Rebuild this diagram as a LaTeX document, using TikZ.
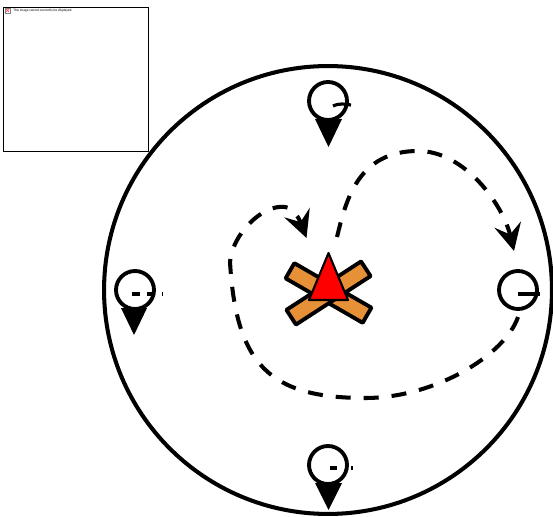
\documentclass[tikz,border=0pt]{standalone}
\usepackage{xcolor}
\usepackage{fontspec}
\setmainfont{Carlito}
\usetikzlibrary{arrows.meta}
\definecolor{logorange}{HTML}{E69138}
\tikzset{
  arena/.style={circle, draw=black, line width=2.3pt, minimum size=8.96cm, inner sep=0pt},
  guard/.style={circle, draw=black, line width=2.2pt, fill=white, minimum size=0.76cm, inner sep=0pt},
  cone/.style={fill=black, draw=none},
  logbar/.style={rectangle, draw=black, fill=logorange, line width=2.2pt, line join=round,
                 minimum width=1.78cm, minimum height=0.35cm, inner sep=0pt},
  flame/.style={draw=black, fill=red, line width=1.2pt, line join=round},
  route/.style={-{Stealth[length=0.54cm, width=0.54cm, inset=0.2cm]}, line width=2.3pt,
                dash pattern=on 0.3cm off 0.26cm},
  facing/.style={line width=1.8pt},
  placeholder/.style={rectangle, draw=black, line width=0.4pt, minimum width=2.9cm,
                      minimum height=2.88cm, inner sep=0pt},
}
\begin{document}
\begin{tikzpicture}[x=0.02cm, y=-0.02cm]
\useasboundingbox (0,0) rectangle (553,516);

% ── Missing image box (top left) ───────────────────────────
\node[placeholder] (imgbox) at (75.5,79) {};
\node[anchor=west, inner sep=0pt, font=\fontsize{2}{3}\selectfont] (imgtext) at (13,10.5)
      {This image cannot currently be displayed.};
\draw[line width=0.2pt, draw=gray, fill=white] (5,8) rectangle (10,13);
\draw[line width=0.4pt, red!70] (6,9) -- (9,12) (9,9) -- (6,12);

% ── Outer circle ───────────────────────────────────────────
\node[arena] (ring) at (328,290) {};

% ── Four markers ───────────────────────────────────────────
\fill[cone] (315,119) -- (342,119) -- (328.5,147) -- cycle;
\node[guard] (gtop) at (328,101) {};
\draw[facing] (333,106) .. controls (340,103) and (344,104) .. (351,105);

\fill[cone] (121,308) -- (147,308) -- (134,335) -- cycle;
\node[guard] (gleft) at (135,290) {};
\draw[facing, dash pattern=on 4.5pt off 4pt] (132,294) -- (163,294);

\node[guard] (gright) at (518,290) {};
\draw[facing] (518,294) -- (540,294);

\fill[cone] (315,483) -- (342,483) -- (328.5,510) -- cycle;
\node[guard] (gbottom) at (328,465) {};
\draw[facing, dash pattern=on 4pt off 8pt] (330,468) -- (353,468);

% ── Fire in the centre ─────────────────────────────────────
\node[logbar, rotate=-30] (logb) at (328.5,293) {};
\node[logbar, rotate=33] (loga) at (328.5,293) {};
\draw[flame] (328.5,253) -- (348,300) -- (309,300) -- cycle;

% ── Dashed routes ──────────────────────────────────────────
\coordinate (rstart) at (337,237);
\coordinate (rend) at (514,251);
\draw[route] (rstart) .. controls (346,200) and (358,151) .. (418,151)
      .. controls (465,151) and (503,205) .. (rend);

\coordinate (lstart) at (518,317);
\coordinate (lend) at (306.5,238);
\draw[route] (lstart) .. controls (505,355) and (435,398) .. (365,398)
      .. controls (270,398) and (236,365) .. (230,262)
      .. controls (232,235) and (262,204) .. (285,207)
      .. controls (293,208) and (299,218) .. (lend);

\end{tikzpicture}
\end{document}
